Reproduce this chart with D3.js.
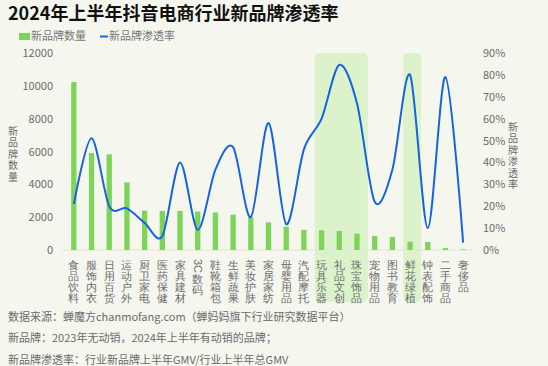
<!DOCTYPE html>
<html>
<head>
<meta charset="utf-8">
<script src="https://cdn.jsdelivr.net/npm/d3@7"></script>
<style>
  body { margin: 0; background: #f5f7ef; }
  svg { display: block; font-family: "Noto Sans CJK SC", "Noto Sans", sans-serif; }
</style>
</head>
<body>
<svg></svg>
<script>
const categories = ["食品饮料", "服饰内衣", "日用百货", "运动户外", "厨卫家电", "医药保健", "家具建材", "3C数码",
    "鞋靴箱包", "生鲜蔬果", "美妆护肤", "家居家纺", "母婴用品", "汽配摩托", "玩具乐器", "礼品文创",
    "珠宝饰品", "宠物用品", "图书教育", "鲜花绿植", "钟表配饰", "二手商品", "奢侈品"];
const brandCounts = [10230, 5910, 5830, 4120, 2400, 2380, 2380, 2340, 2290, 2150, 1990, 1680,
    1420, 1220, 1200, 1160, 990, 850, 790, 510, 490, 120, 40];
const penetration = [21, 51, 20, 19, 12.4, 6.4, 40, 9.2, 36.7, 47, 15, 58,
    11.8, 46, 60, 84.6, 67, 22, 36.7, 80, 10, 79, 3.4];
const leftTicks = [0, 2000, 4000, 6000, 8000, 10000, 12000];
const rightTicks = [0, 10, 20, 30, 40, 50, 60, 70, 80, 90];
const highlights = [["玩具乐器", "珠宝饰品"], ["鲜花绿植", "鲜花绿植"]];
const notes = [
    "数据来源：蝉魔方chanmofang.com（蝉妈妈旗下行业研究数据平台）",
    "新品牌：2023年无动销，2024年上半年有动销的品牌；",
    "新品牌渗透率：行业新品牌上半年GMV/行业上半年总GMV"
];

const svg = d3.select("svg")
    .attr("width", 548)
    .attr("height", 366);

const margin = {top: 53, left: 65, right: 76, bottom: 116},
      width = 548 - margin.left - margin.right,
      height = 366 - margin.top - margin.bottom;

const g = svg.append("g")
    .attr("transform", `translate(${margin.left},${margin.top})`);

const x = d3.scaleBand()
    .domain(categories)
    .range([0, width])
    .paddingInner(0.7)
    .paddingOuter(0.35);

const y = d3.scaleLinear().domain([0, 12000]).range([height, 0]);
const y2 = d3.scaleLinear().domain([0, 90]).range([height, 0]);
const step = x.step();
const cx = d => x(d) + x.bandwidth() / 2;

// highlighted columns (rounded box from plot top to below the labels)
g.selectAll(".hl")
    .data(highlights)
    .enter().append("rect")
    .attr("class", "hl")
    .attr("x", d => cx(d[0]) - step / 2 + 2)
    .attr("width", d => cx(d[1]) - cx(d[0]) + step)
    .attr("y", 0)
    .attr("height", height + 52)
    .attr("rx", 5)
    .attr("fill", "#d8f1c6")
    .attr("opacity", 0.9);

// baseline
g.append("line")
    .attr("x1", -3).attr("x2", width)
    .attr("y1", height).attr("y2", height)
    .attr("stroke", "#e2e4dc");

g.selectAll(".bar")
    .data(brandCounts)
    .enter().append("rect")
    .attr("class", "bar")
    .attr("x", (d, i) => x(categories[i]))
    .attr("y", d => y(d))
    .attr("width", x.bandwidth())
    .attr("height", d => height - y(d))
    .attr("fill", "#7dd458");

const line = d3.line()
    .x((d, i) => cx(categories[i]))
    .y(d => y2(d))
    .curve(d3.curveCardinal.tension(0.1));

g.append("path")
    .datum(penetration)
    .attr("fill", "none")
    .attr("stroke", "#1663e2")
    .attr("stroke-width", 2)
    .attr("d", line);

// axes
const leftAxis = g.append("g")
    .call(d3.axisLeft(y).tickValues(leftTicks).tickSize(0).tickPadding(12).tickFormat(d3.format("d")));
leftAxis.select(".domain").remove();
leftAxis.selectAll("text")
    .attr("fill", "#6b6b6b")
    .style("font-size", "11px")
    .style("font-family", "'Noto Sans CJK SC'");

const rightAxis = g.append("g")
    .attr("transform", `translate(${width},0)`)
    .call(d3.axisRight(y2).tickValues(rightTicks).tickSize(0).tickPadding(11).tickFormat(d => d + "%"));
rightAxis.select(".domain").remove();
rightAxis.selectAll("text")
    .attr("fill", "#6b6b6b")
    .style("font-size", "11px")
    .style("font-family", "'Noto Sans CJK SC'");

// vertical category labels, one character per row; latin runs turned sideways
const xAxis = g.append("g")
    .attr("transform", `translate(0,${height})`)
    .call(d3.axisBottom(x).tickSize(0).tickFormat(""));
xAxis.select(".domain").remove();
xAxis.selectAll(".tick").each(function(d) {
    const tick = d3.select(this);
    const tokens = d.match(/[A-Za-z0-9]+|./g);
    let yy = 15;
    tokens.forEach(t => {
        if (/^[A-Za-z0-9]+$/.test(t)) {
            tick.append("text")
                .attr("transform", `translate(0,${yy + 1}) rotate(90)`)
                .attr("text-anchor", "middle")
                .attr("dy", "0.35em")
                .attr("fill", "#6b6b6b")
                .style("font-size", "11px")
                .text(t);
            yy += 14;
        } else {
            tick.append("text")
                .attr("y", yy)
                .attr("text-anchor", "middle")
                .attr("dy", "0.35em")
                .attr("fill", "#6b6b6b")
                .style("font-size", "11px")
                .text(t);
            yy += 11;
        }
    });
});

// axis titles: a character per row
function stacked(text, px, py) {
    svg.append("g")
        .attr("font-size", 10)
        .selectAll("text")
        .data(text.split(""))
        .enter().append("text")
        .attr("x", px)
        .attr("y", (d, i) => py + i * 11.5)
        .attr("text-anchor", "middle")
        .attr("dy", "0.35em")
        .attr("fill", "#6b6b6b")
        .text(d => d);
}
stacked("新品牌数量", 13, 131);
stacked("新品牌渗透率", 513, 127);

// title
svg.append("text")
    .attr("x", 8)
    .attr("y", 20)
    .attr("fill", "#111")
    .style("font-size", "18px")
    .style("font-weight", "bold")
    .text("2024年上半年抖音电商行业新品牌渗透率");

// legend
svg.append("rect")
    .attr("x", 19).attr("y", 33).attr("width", 11).attr("height", 7)
    .attr("fill", "#7dd458");
svg.append("text")
    .attr("x", 31).attr("y", 36.5).attr("dy", "0.35em")
    .attr("fill", "#777").style("font-size", "11px")
    .text("新品牌数量");
svg.append("line")
    .attr("x1", 100).attr("x2", 108).attr("y1", 36.5).attr("y2", 36.5)
    .attr("stroke", "#1663e2").attr("stroke-width", 2);
svg.append("text")
    .attr("x", 109).attr("y", 36.5).attr("dy", "0.35em")
    .attr("fill", "#777").style("font-size", "11px")
    .text("新品牌渗透率");

// notes
svg.selectAll(".note")
    .data(notes)
    .enter().append("text")
    .attr("class", "note")
    .attr("x", 8)
    .attr("y", (d, i) => 317 + i * 21.5)
    .attr("dy", "0.35em")
    .attr("fill", "#6b6b6b")
    .style("font-size", "11px")
    .text(d => d);
</script>
</body>
</html>
